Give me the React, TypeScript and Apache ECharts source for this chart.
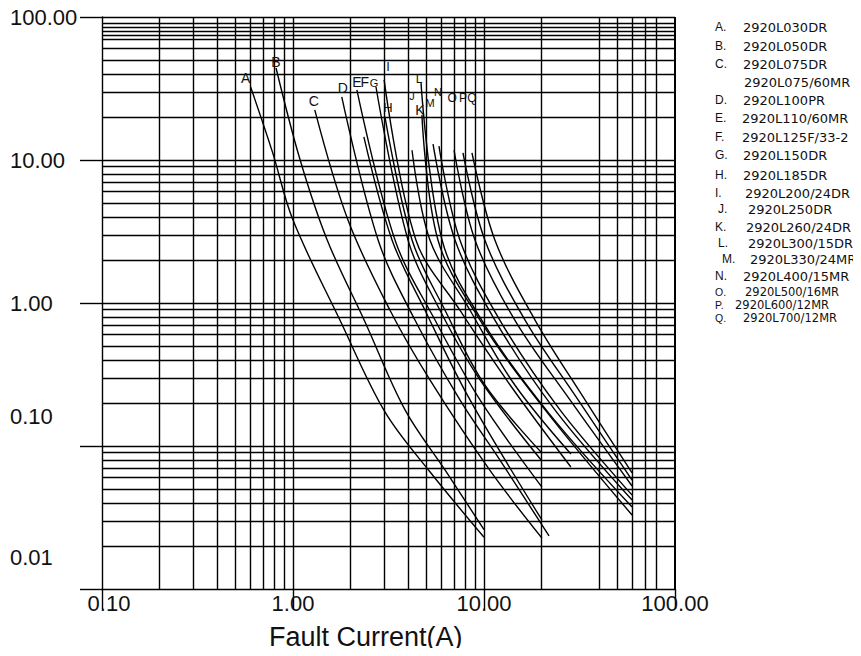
import React, { useEffect, useRef } from "react";
import * as echarts from "echarts";

// ---------- data ----------
const xTickLabels = ["0.10", "1.00", "10.00", "100.00"];
const yTickLabels = ["0.01", "0.10", "1.00", "10.00", "100.00"];

const xGridValues = [0.2, 0.3, 0.4, 0.5, 0.6, 0.7, 0.8, 0.9, 1, 2, 3, 4, 5, 6, 7, 8, 9, 10, 20, 40, 50, 60, 70, 80];
const yGridValues = [
  0.02, 0.03, 0.04, 0.05, 0.06, 0.07, 0.08, 0.09, 0.1,
  0.2, 0.3, 0.4, 0.5, 0.6, 0.7, 0.8, 0.9, 1,
  2, 3, 4, 5, 6, 7, 8, 9, 10,
  20, 30, 40, 50, 60, 70, 75, 80, 85, 90,
];

const curveLetters = ["A", "B", "C", "D", "E", "F", "G", "H", "I", "J", "K", "L", "M", "N", "O", "P", "Q"];

const curveA = [[0.6, 32.4], [0.78, 11.4], [1.0, 3.8], [1.76, 0.76], [3.03, 0.173], [5.21, 0.066], [10, 0.023]];
const curveB = [[0.815, 44], [1.09, 10], [1.51, 2.76], [2.38, 0.74], [3.86, 0.179], [6.25, 0.068], [10, 0.026]];
const curveC = [[1.3, 22.4], [1.94, 3.8], [3.22, 0.89], [5.21, 0.29], [10.7, 0.068], [20.1, 0.0227]];
const curveD = [[1.8, 27.6], [2.79, 2.76], [4.35, 0.76], [7.48, 0.21], [12.1, 0.08], [21.9, 0.0235]];
const curveE = [[2.16, 30.9], [3.42, 2.76], [5.54, 0.76], [9.53, 0.21], [20.1, 0.0516]];
const curveF = [[2.35, 14.5], [3.3, 2.76], [4.91, 0.89], [8.45, 0.21], [20.1, 0.0304]];
const curveG = [[2.72, 32.4], [4.0, 2.76], [5.88, 0.89], [9.53, 0.29], [20.1, 0.0785]];
const curveH = [[3.03, 20.0], [4.2, 2.76], [6.25, 0.89], [10.1, 0.267], [20.1, 0.0893]];
const curveI = [[3.0, 36.3], [4.4, 2.76], [7.48, 0.89], [13.7, 0.267], [28.5, 0.0713]];
const curveJ = [[4.2, 11.7], [5.21, 2.76], [8.45, 0.89], [14.5, 0.267], [28.5, 0.0879]];
const curveK = [[4.73, 20.6], [5.74, 2.76], [9.53, 0.76], [20.9, 0.179], [59.6, 0.0329]];
const curveL = [[4.68, 34.5], [6.03, 2.76], [10.1, 0.7], [22.2, 0.165], [59.6, 0.0374]];
const curveM = [[5.41, 12.9], [7.05, 2.76], [11.4, 0.76], [23.5, 0.179], [59.6, 0.0419]];
const curveN = [[5.81, 12.5], [7.48, 2.76], [12.1, 0.76], [25.0, 0.179], [59.6, 0.0454]];
const curveO = [[6.97, 11.7], [8.97, 2.76], [14.5, 0.76], [28.2, 0.21], [59.6, 0.0525]];
const curveP = [[7.76, 11.2], [10.1, 2.76], [16.4, 0.76], [31.1, 0.21], [59.6, 0.0578]];
const curveQ = [[8.65, 11.2], [11.4, 2.76], [18.5, 0.76], [33.8, 0.21], [59.6, 0.0648]];

const curves = [curveA, curveB, curveC, curveD, curveE, curveF, curveG, curveH, curveI, curveJ, curveK, curveL, curveM, curveN, curveO, curveP, curveQ];

const legendLetters = ["A.", "B.", "C.", "", "D.", "E.", "F.", "G.", "H.", "I.", "J.", "K.", "L.", "M.", "N.", "O.", "P.", "Q."];
const legendNames = [
  "2920L030DR", "2920L050DR", "2920L075DR", "2920L075/60MR", "2920L100PR", "2920L110/60MR",
  "2920L125F/33-2", "2920L150DR", "2920L185DR", "2920L200/24DR", "2920L250DR", "2920L260/24DR",
  "2920L300/15DR", "2920L330/24MR", "2920L400/15MR", "2920L500/16MR", "2920L600/12MR", "2920L700/12MR",
];

// ---------- styles ----------
const FONT = "'Liberation Sans', Arial, sans-serif";
const INK = "#111";
// letter label offsets (px) from each curve's first point, and font sizes
const letterOffsets = [
  [-5, -9], [0, -6], [-1, -9], [1, -9], [0, -8], [1, -55], [-2, -4], [3, -9], [4, -13],
  [0, -54], [-2, -5], [-2, -4], [-3, -41], [-1, -54], [-2, -52], [0, -55], [0, -55],
];
const letterSizes = [14, 14, 14, 14, 14, 14, 11, 13, 13, 11, 14, 12, 11, 11, 12, 12, 12];

const legendRowY = [27, 46, 64, 82, 100, 118, 137, 155, 175, 193, 209, 227, 243, 259, 276, 292, 305, 318];
const legendLetterX = [715, 715, 715, 715, 715, 715, 715, 715, 715, 715, 718, 715, 718, 722, 715, 715, 715, 715];
const legendTextX = [743, 743, 743, 744, 743, 742, 742, 743, 743, 745, 748, 746, 748, 750, 743, 745, 735, 743];
const legendFontSizes = [13, 13, 13, 13, 13, 13, 13, 13, 13, 13, 13, 13, 13, 13, 13, 11.5, 11.5, 11.5];

export default function App() {
  const ref = useRef<HTMLDivElement>(null);

  useEffect(() => {
    if (!ref.current) return;
    const chart = echarts.init(ref.current, undefined, { renderer: "svg" });

    const gridLineStyle = { color: "#000", width: 1.4, type: "solid" as const };

    const gridSeries: any = {
      type: "line",
      data: [],
      silent: true,
      z: 1,
      markLine: {
        silent: true,
        symbol: ["none", "none"],
        animation: false,
        label: { show: false },
        lineStyle: gridLineStyle,
        emphasis: { disabled: true },
        data: [
          ...xGridValues.map((v) => ({ xAxis: v })),
          ...yGridValues.map((v) => ({ yAxis: v })),
          { xAxis: 100, lineStyle: { color: "#000", width: 2 } },
          { yAxis: 100, lineStyle: { color: "#000", width: 1.4 } },
        ],
      },
    };

    const curveSeries = curves.map((pts, idx) => ({
      type: "line",
      name: curveLetters[idx],
      color: "#000",
      smooth: 0.35,
      showSymbol: false,
      z: 3,
      silent: true,
      lineStyle: { color: "#000", width: 1.4 },
      itemStyle: { color: "#000" },
      emphasis: { disabled: true },
      data: pts,
    }));

    chart.setOption({
      animation: false,
      backgroundColor: "#fff",
      grid: { left: 102, top: 17, right: 186, bottom: 67, containLabel: false },
      xAxis: {
        type: "log",
        logBase: 10,
        min: 0.1,
        max: 100,
        splitNumber: 3,
        axisLine: { show: true, lineStyle: { color: "#000", width: 1.4 } },
        axisTick: { show: true, length: 20, lineStyle: { color: "#000", width: 1.4 } },
        minorTick: { show: false },
        splitLine: { show: false },
        axisLabel: {
          margin: 3,
          fontSize: 22,
          fontFamily: FONT,
          color: INK,
          formatter: (v: number) => {
            const k = Math.round(Math.log10(v)) + 1;
            const s = xTickLabels[k] ?? "";
            return k === 0 ? `{sh|${s}}` : s;
          },
          rich: { sh: { padding: [0, 0, 0, 14], fontSize: 22, fontFamily: FONT, color: INK } },
        },
      },
      yAxis: {
        type: "log",
        logBase: 10,
        min: 0.01,
        max: 100,
        splitNumber: 4,
        axisLine: { show: true, lineStyle: { color: "#000", width: 1.4 } },
        axisTick: { show: true, length: 22, lineStyle: { color: "#000", width: 1.4 } },
        minorTick: { show: false },
        splitLine: { show: false },
        axisLabel: {
          margin: 92,
          align: "left",
          fontSize: 22,
          fontFamily: FONT,
          color: INK,
          formatter: (v: number) => {
            const k = Math.round(Math.log10(v)) + 2;
            const s = yTickLabels[k] ?? "";
            if (k === 0) return `{lo2|${s}}`;
            if (k === 1) return `{lo1|${s}}`;
            return s;
          },
          rich: {
            lo1: { padding: [0, 0, 60, 0], fontSize: 22, fontFamily: FONT, color: INK },
            lo2: { padding: [0, 0, 64, 0], fontSize: 22, fontFamily: FONT, color: INK },
          },
        },
      },
      series: [gridSeries, ...curveSeries],
    });

    // curve letters, placed at each curve's first point through the chart's own scales
    const letterGraphics: any[] = curves.map((pts, idx) => {
      const px = chart.convertToPixel({ gridIndex: 0 }, pts[0]) as number[];
      return {
        type: "text",
        x: px[0] + letterOffsets[idx][0],
        y: px[1] + letterOffsets[idx][1],
        z: 10,
        style: {
          text: curveLetters[idx],
          font: `${letterSizes[idx]}px ${FONT}`,
          fill: INK,
          align: "center",
          verticalAlign: "middle",
        },
      };
    });

    const legendGraphics: any[] = [];
    legendNames.forEach((name, i) => {
      const fs = legendFontSizes[i];
      if (legendLetters[i]) {
        legendGraphics.push({
          type: "text",
          x: legendLetterX[i],
          y: legendRowY[i],
          style: { text: legendLetters[i], font: `${fs - 1}px ${FONT}`, fill: INK, verticalAlign: "middle" },
        });
      }
      legendGraphics.push({
        type: "text",
        x: legendTextX[i],
        y: legendRowY[i],
        style: { text: name, font: `${fs}px 'DejaVu Sans', sans-serif`, fill: INK, verticalAlign: "middle" },
      });
    });

    chart.setOption({
      graphic: [
        ...letterGraphics,
        ...legendGraphics,
        {
          type: "text",
          x: 269,
          y: 637,
          style: { text: "Fault Current(A)", font: `27px ${FONT}`, fill: INK, verticalAlign: "middle" },
        },
      ],
    });

    return () => chart.dispose();
  }, []);

  return <div ref={ref} style={{ width: 861, height: 656, margin: -8 }} />;
}
